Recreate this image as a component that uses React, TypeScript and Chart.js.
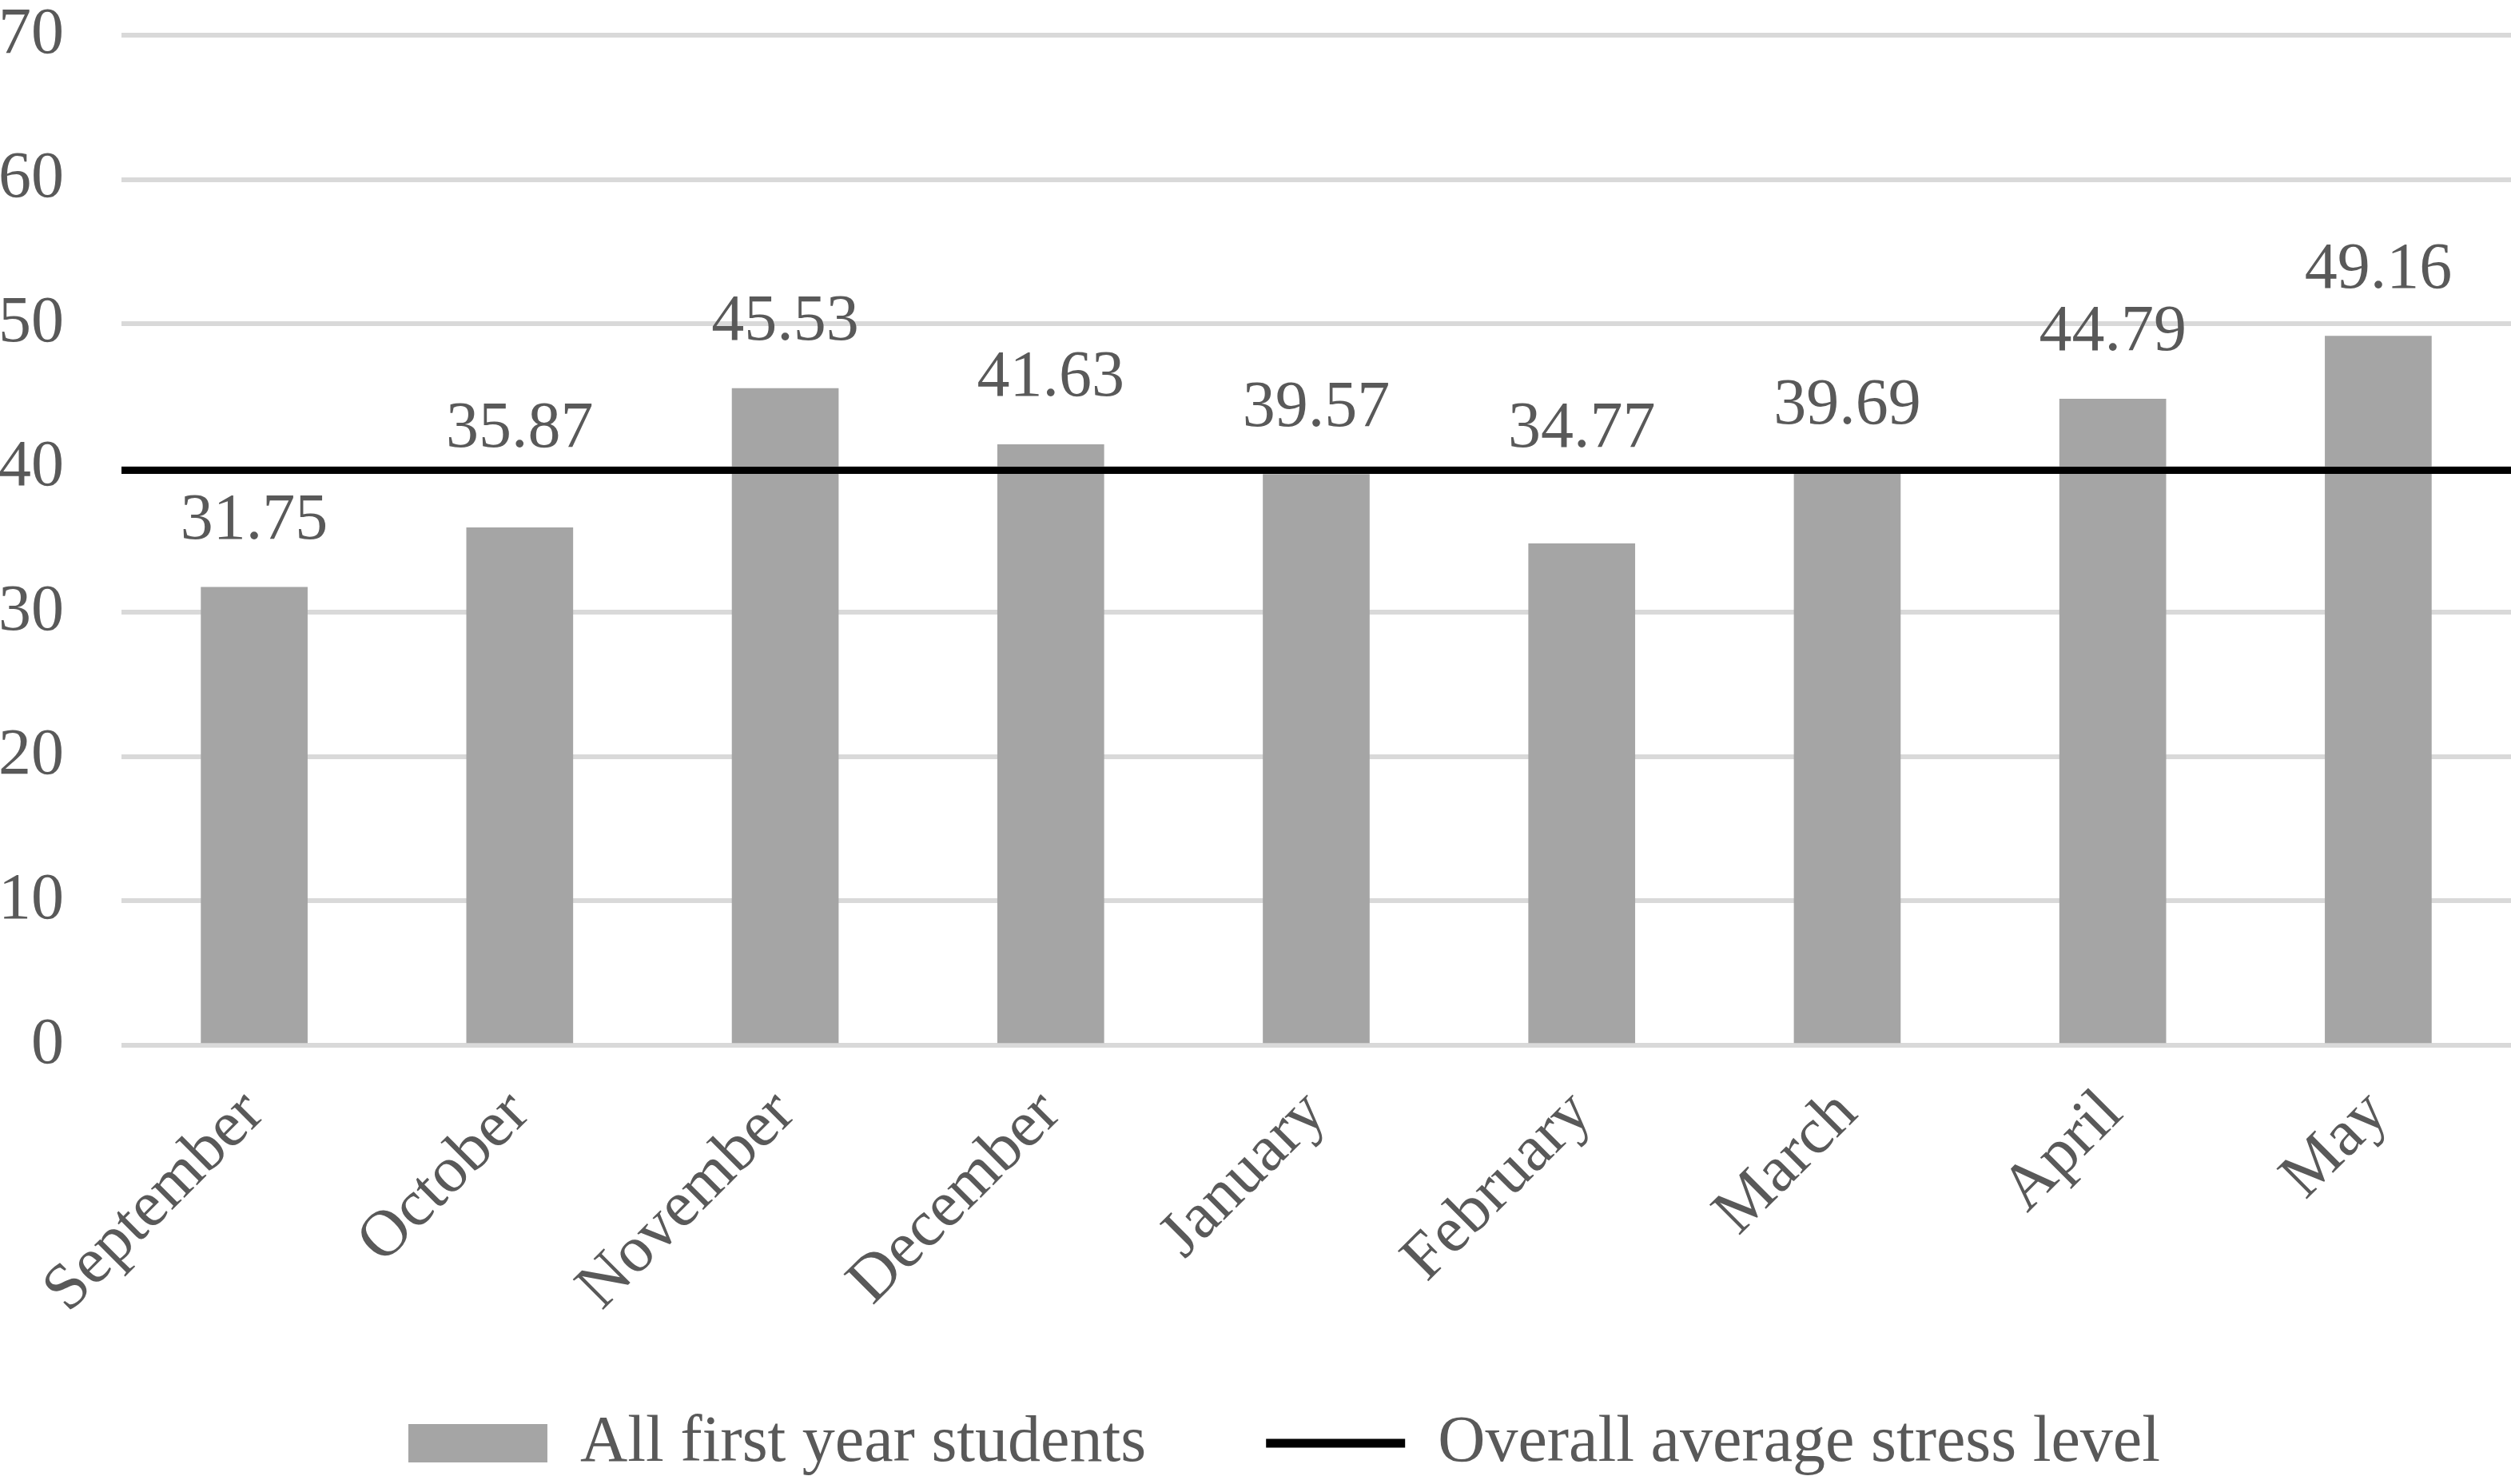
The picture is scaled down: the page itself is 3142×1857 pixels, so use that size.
import { useEffect, useRef } from "react"
import { Chart, registerables } from "chart.js"

Chart.register(...registerables)

const months = ["September", "October", "November", "December", "January", "February", "March", "April", "May"]
const stressLevels = [31.75, 35.87, 45.53, 41.63, 39.57, 34.77, 39.69, 44.79, 49.16]
const averageLevel = [39.85, 39.85, 39.85, 39.85, 39.85, 39.85, 39.85, 39.85, 39.85]
const seriesNames = ["All first year students", "Overall average stress level"]
const yMin = 0
const yMax = 70
const yStep = 10

const textColor = "#595959"
const fontFamily = '"Liberation Serif", "Times New Roman", serif'
const fontSize = 82

// value labels above the bars; a label that would cross the average line is lifted above it
const valueLabels = {
  id: "valueLabels",
  afterDatasetsDraw(chart: any) {
    const bars = chart.getDatasetMeta(0).data
    const avgPoints = chart.getDatasetMeta(1).data
    const ctx = chart.ctx
    const gap = 61
    const textHeight = 58
    ctx.save()
    ctx.font = `${fontSize}px ${fontFamily}`
    ctx.fillStyle = textColor
    ctx.textAlign = "center"
    ctx.textBaseline = "alphabetic"
    bars.forEach((bar: any, i: number) => {
      const lineY = avgPoints[i] ? avgPoints[i].y : -1000
      let baseline = bar.y - gap
      if (baseline + 8 > lineY - 6 && baseline - textHeight < lineY + 6) {
        baseline = lineY - 30
      }
      ctx.fillText(stressLevels[i].toFixed(2), bar.x, baseline)
    })
    ctx.restore()
  },
}

// the rotated month names run past the x axis box, so let them draw down to the legend text,
// and nudge the legend a little to the right like the original
const layoutTweaks = {
  id: "layoutTweaks",
  afterLayout(chart: any) {
    const x = chart.scales.x
    x.bottom = chart.height - 120
    const legend = chart.legend
    if (legend) {
      legend.left += 36
      legend.right += 36
    }
  },
}

export default function App() {
  const chartRef = useRef<HTMLCanvasElement>(null)
  const chartInstance = useRef<Chart | null>(null)

  useEffect(() => {
    document.body.style.margin = "0"
    if (!chartRef.current) return
    if (chartInstance.current) chartInstance.current.destroy()

    Chart.defaults.font.family = fontFamily
    Chart.defaults.color = textColor

    chartInstance.current = new Chart(chartRef.current, {
      type: "bar",
      data: {
        labels: months,
        datasets: [
          {
            type: "bar",
            label: seriesNames[0],
            data: stressLevels,
            backgroundColor: "#a5a5a5",
            barThickness: 133,
            grouped: false,
            xAxisID: "x",
            order: 1,
          },
          {
            type: "line",
            label: seriesNames[1],
            data: averageLevel,
            borderColor: "#000000",
            backgroundColor: "#000000",
            borderWidth: 9,
            pointRadius: 0,
            xAxisID: "x2",
            order: 0,
          } as any,
        ],
      },
      options: {
        animation: false,
        responsive: true,
        maintainAspectRatio: false,
        layout: { padding: 0 },
        plugins: {
          tooltip: { enabled: false },
          legend: {
            position: "bottom",
            maxHeight: 244,
            labels: {
              usePointStyle: true,
              pointStyleWidth: 174,
              boxHeight: 48,
              padding: 150,
              color: textColor,
              font: { size: fontSize },
              sort: (a: any, b: any) => a.datasetIndex - b.datasetIndex,
              generateLabels: (chart: any) =>
                Chart.defaults.plugins.legend.labels.generateLabels(chart).map((item: any) =>
                  item.datasetIndex === 0
                    ? { ...item, pointStyle: "rect", lineWidth: 0, fillStyle: "#a5a5a5" }
                    : { ...item, pointStyle: "line", lineWidth: 11, strokeStyle: "#000000" }
                ),
            },
          } as any,
        },
        scales: {
          x: {
            grid: { display: false },
            border: { display: false },
            ticks: {
              minRotation: 45,
              maxRotation: 45,
              padding: 30,
              color: textColor,
              font: { size: fontSize },
            },
            afterFit: (scale: any) => {
              scale.height = 307
            },
          },
          x2: {
            type: "category",
            offset: false,
            display: false,
          },
          y: {
            min: yMin,
            max: yMax,
            ticks: {
              stepSize: yStep,
              padding: 0,
              color: textColor,
              font: { size: fontSize, lineHeight: 1.08 },
            },
            grid: {
              color: "#d9d9d9",
              lineWidth: 6,
              drawTicks: true,
              tickLength: 72,
              tickColor: "rgba(0,0,0,0)",
            },
            border: { display: false },
            afterFit: (scale: any) => {
              scale.width = 152
            },
          },
        },
      },
      plugins: [valueLabels, layoutTweaks],
    })

    return () => {
      if (chartInstance.current) {
        chartInstance.current.destroy()
        chartInstance.current = null
      }
    }
  }, [])

  return (
    <div style={{ width: "3142px", height: "1857px", position: "relative", background: "#ffffff" }}>
      <canvas ref={chartRef}></canvas>
    </div>
  )
}
